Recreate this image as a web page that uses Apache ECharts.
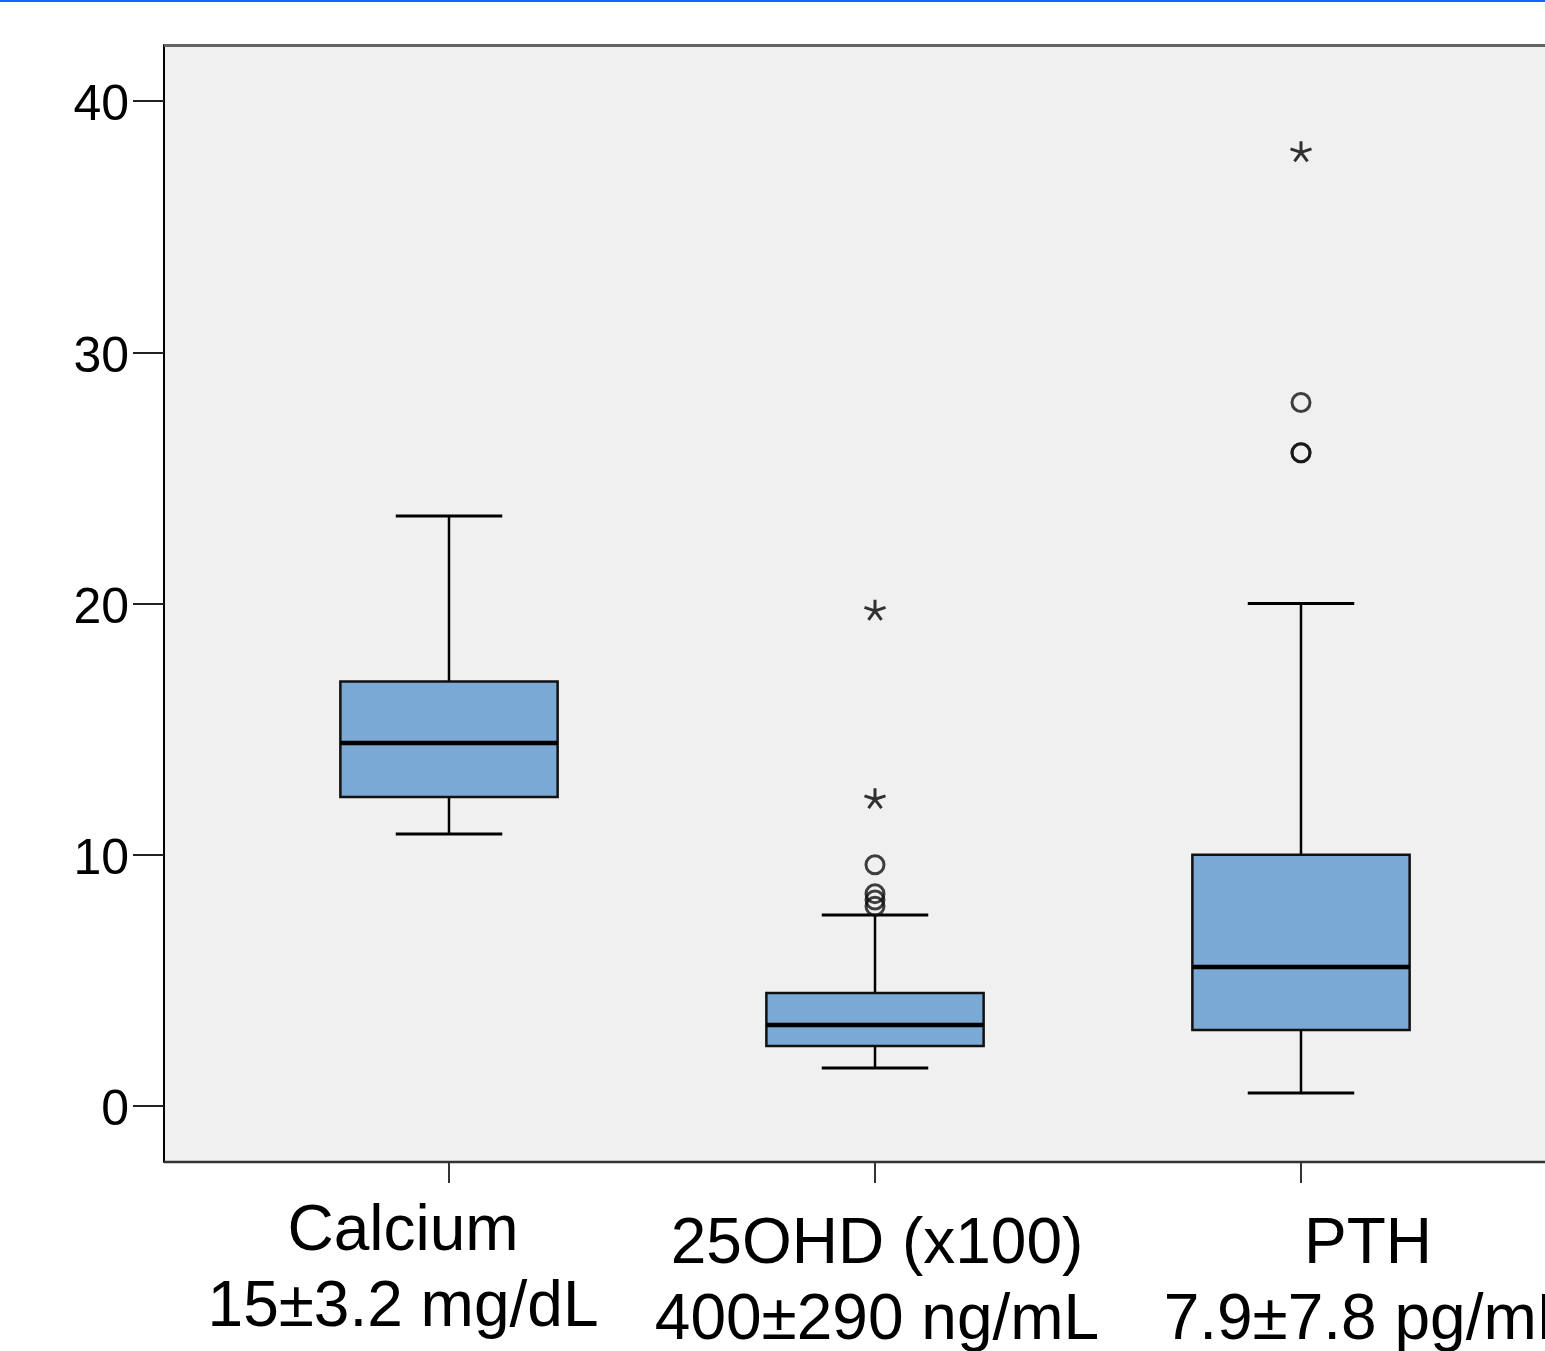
<!DOCTYPE html>
<html><head><meta charset="utf-8">
<script src="https://cdn.jsdelivr.net/npm/echarts@6/dist/echarts.min.js"></script>
<style>html,body{margin:0;padding:0;background:#fff}#c{width:1545px;height:1351px}</style>
</head><body><div id="c"></div>
<script>
const categories = ['Calcium', '25OHD (x100)', 'PTH'];
const subLabels = ['15±3.2 mg/dL', '400±290 ng/mL', '7.9±7.8 pg/mL'];
const whiskerLow = [10.83, 1.51, 0.52];
const q1 = [12.3, 2.39, 3.02];
const median = [14.45, 3.22, 5.53];
const q3 = [16.9, 4.5, 10.0];
const whiskerHigh = [23.48, 7.6, 20.0];
const circleOutliers = [[1, 9.6], [1, 8.45], [1, 8.2], [1, 7.95], [2, 28.0], [2, 26.0], [2, 26.0]];
const starOutliers = [[1, 19.75], [1, 12.25], [2, 38.0]];
const yTicks = [0, 10, 20, 30, 40];

const FONT = '"Liberation Sans", Arial, Helvetica, sans-serif';
const chart = echarts.init(document.getElementById('c'), null, {renderer: 'canvas'});

const boxData = categories.map((c, i) => [i, whiskerLow[i], q1[i], median[i], q3[i], whiskerHigh[i]]);

function renderBox(params, api) {
  const i = api.value(0);
  const lo = api.coord([i, api.value(1)]);
  const b1 = api.coord([i, api.value(2)]);
  const md = api.coord([i, api.value(3)]);
  const b3 = api.coord([i, api.value(4)]);
  const hi = api.coord([i, api.value(5)]);
  const band = api.size([1, 0])[0];
  const hw = band * 0.255, cw = band * 0.125;
  const cx = lo[0];
  const line = (x1, y1, x2, y2, w) => ({type: 'line', shape: {x1, y1, x2, y2}, style: {stroke: '#000', lineWidth: w}});
  return {type: 'group', children: [
    line(cx, lo[1], cx, b1[1], 2.5),
    line(cx, b3[1], cx, hi[1], 2.5),
    line(cx - cw, lo[1], cx + cw, lo[1], 3),
    line(cx - cw, hi[1], cx + cw, hi[1], 3),
    {type: 'rect', shape: {x: cx - hw, y: b3[1], width: 2 * hw, height: b1[1] - b3[1]},
     style: {fill: '#7aa9d6', stroke: '#111', lineWidth: 2.5}},
    line(cx - hw, md[1], cx + hw, md[1], 4.5)
  ]};
}

const starPath = 'path://M0,0L0,-10M0,0L9.5,-3.1M0,0L5.9,8.1M0,0L-5.9,8.1M0,0L-9.5,-3.1';

const labelRich = {
  a0: {fontSize: 64, lineHeight: 76, fontFamily: FONT, color: '#000', padding: [0, 92, 0, 0]},
  b0: {fontSize: 64, lineHeight: 76, fontFamily: FONT, color: '#000', padding: [0, 92, 0, 0]},
  a1: {fontSize: 64, lineHeight: 102, fontFamily: FONT, color: '#000', padding: [0, 0, 0, 4]},
  b1: {fontSize: 64, lineHeight: 50, fontFamily: FONT, color: '#000', padding: [0, 0, 0, 4]},
  a2: {fontSize: 64, lineHeight: 102, fontFamily: FONT, color: '#000', padding: [0, 0, 0, 134]},
  b2: {fontSize: 64, lineHeight: 50, fontFamily: FONT, color: '#000', padding: [0, 0, 0, 134]}
};

chart.setOption({
  animation: false,
  backgroundColor: '#fff',
  graphic: [
    {type: 'rect', shape: {x: 0, y: 0, width: 1545, height: 2}, style: {fill: '#1466ff'}, z: 100, silent: true},
    {type: 'rect', shape: {x: 164, y: 45, width: 1420, height: 1117}, style: {fill: '#f0f0f0'}, z: -100, silent: true},
    {type: 'line', shape: {x1: 164, y1: 45.5, x2: 1560, y2: 45.5}, style: {stroke: '#666', lineWidth: 3}, z: 100, silent: true},
    {type: 'line', shape: {x1: 164, y1: 1162, x2: 1560, y2: 1162}, style: {stroke: '#333', lineWidth: 2.5}, z: 100, silent: true}
  ],
  grid: {left: 236, width: 1278, top: 45, bottom: 189, containLabel: false, outerBoundsMode: 'none'},
  xAxis: {
    type: 'category',
    data: categories,
    axisLine: {show: false, onZero: false},
    axisTick: {show: true, alignWithLabel: true, length: 21, lineStyle: {color: '#333', width: 2}},
    axisLabel: {
      interval: 0, margin: 32, hideOverlap: false,
      formatter: (v, i) => '{a' + i + '|' + v + '}\n{b' + i + '|' + subLabels[i] + '}',
      rich: labelRich
    },
    splitLine: {show: false}
  },
  yAxis: {
    type: 'value', min: -2.23, max: 42.23, offset: 72,
    axisLine: {show: true, onZero: false, lineStyle: {color: '#000', width: 2}},
    axisTick: {show: true, length: 31, customValues: yTicks, lineStyle: {color: '#222', width: 2}},
    axisLabel: {
      customValues: yTicks, margin: 35,
      formatter: v => '{v|' + v + '}',
      rich: {v: {fontSize: 50, color: '#000', fontFamily: FONT, lineHeight: 50, padding: [11, 0, 0, 0]}}
    },
    splitLine: {show: false}
  },
  series: [
    {type: 'custom', data: boxData, encode: {x: 0, y: [1, 2, 3, 4, 5]}, renderItem: renderBox, z: 2, silent: true},
    {type: 'scatter', data: circleOutliers, symbol: 'circle', symbolSize: 18,
     itemStyle: {color: 'rgba(0,0,0,0)', borderColor: '#111', borderWidth: 3}, z: 3, silent: true},
    {type: 'scatter', data: starOutliers, symbol: starPath, symbolSize: 21, symbolKeepAspect: true,
     itemStyle: {color: 'rgba(0,0,0,0)', borderColor: '#000', borderWidth: 3}, z: 3, silent: true}
  ]
});
</script></body></html>
